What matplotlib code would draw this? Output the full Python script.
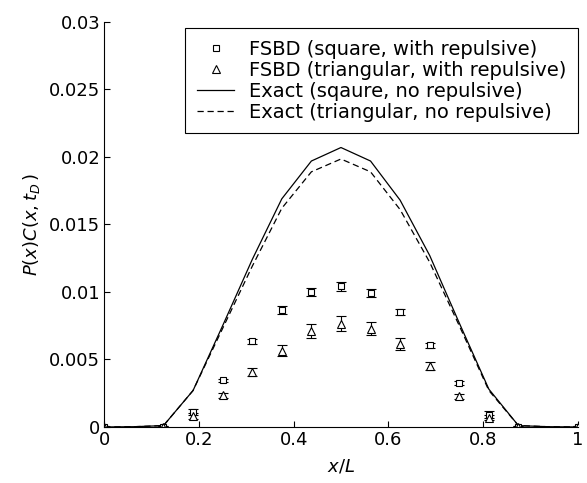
import numpy as np
import matplotlib
matplotlib.use("Agg")
import matplotlib.pyplot as plt

plt.rcParams['font.family'] = ['DejaVu Sans']
plt.rcParams['mathtext.fontset'] = 'custom'
plt.rcParams['mathtext.it'] = 'DejaVu Sans:italic'
plt.rcParams['mathtext.rm'] = 'DejaVu Sans'

# exact curves on a 1/16 grid
x_exact = np.arange(17) / 16
exact_square = [0, 0.00002, 0.0001, 0.0027, 0.0075, 0.0124, 0.0169, 0.0197, 0.0207,
                0.0197, 0.0168, 0.0127, 0.0077, 0.0028, 0.0001, 0.00002, 0]
exact_tri = [0, 0.00002, 0.0001, 0.0027, 0.0073, 0.0119, 0.0162, 0.0189, 0.01985,
             0.0189, 0.0161, 0.0122, 0.0075, 0.0027, 0.0001, 0.00002, 0]

# FSBD simulation points
x_sim = [0, 0.125, 0.1875, 0.25, 0.3125, 0.375, 0.4375, 0.5,
         0.5625, 0.625, 0.6875, 0.75, 0.8125, 0.875, 1.0]
sq_vals = [0, 0, 0.0011, 0.00346, 0.00635, 0.00867, 0.0100, 0.01042,
           0.00993, 0.00852, 0.00605, 0.00326, 0.0009, 0, 0]
sq_err = [0.00005, 0.00005, 0.00025, 0.00012, 0.0002, 0.0003, 0.0003, 0.00033,
          0.0003, 0.00025, 0.0002, 0.00015, 0.00025, 0.00005, 0.00005]
tri_vals = [0, 0, 0.0008, 0.00235, 0.0041, 0.00565, 0.0071, 0.00765,
            0.00728, 0.00615, 0.0045, 0.00227, 0.0007, 0, 0]
tri_err = [0.00005, 0.00005, 0.0002, 0.0002, 0.0003, 0.0004, 0.0005, 0.00055,
           0.0005, 0.00045, 0.0003, 0.0002, 0.0002, 0.00005, 0.00005]

fig = plt.figure(figsize=(5.87, 4.83), dpi=100)
ax = fig.add_axes([0.1777, 0.116, 0.8063, 0.8385])

ax.errorbar(x_sim, sq_vals, yerr=sq_err, fmt='s', mfc='white', mec='black',
            ms=4.2, mew=0.8, ecolor='black', elinewidth=0.8, capsize=3.6, capthick=0.8)
ax.errorbar(x_sim, tri_vals, yerr=tri_err, fmt='^', mfc='white', mec='black',
            ms=6, mew=0.8, ecolor='black', elinewidth=0.8, capsize=3.6, capthick=0.8)
l_sq, = ax.plot(x_exact, exact_square, '-', color='black', lw=0.9)
l_tri, = ax.plot(x_exact, exact_tri, '--', color='black', lw=0.9, dashes=(5, 3))

ax.set_xlim(0, 1)
ax.set_ylim(0, 0.03)
ax.set_xticks([0, 0.2, 0.4, 0.6, 0.8, 1])
ax.set_xticklabels(['0', '0.2', '0.4', '0.6', '0.8', '1'])
ax.set_yticks([0, 0.005, 0.01, 0.015, 0.02, 0.025, 0.03])
ax.set_yticklabels(['0', '0.005', '0.01', '0.015', '0.02', '0.025', '0.03'])
ax.tick_params(direction='in', labelsize=13, length=4, width=0.8, pad=3)
for side in ['top', 'right']:
    ax.spines[side].set_visible(False)
for side in ['left', 'bottom']:
    ax.spines[side].set_linewidth(0.8)

ax.set_xlabel('$x/L$', fontsize=13, labelpad=6)
ax.set_ylabel('$P(x)C(x,t_D\\,)$', fontsize=13, labelpad=5)

# legend handles (markers only, no error bars)
h_sq_m = plt.Line2D([], [], marker='s', ls='none', mfc='white', mec='black', ms=4.3, mew=0.8)
h_tri_m = plt.Line2D([], [], marker='^', ls='none', mfc='white', mec='black', ms=6, mew=0.8)
leg = ax.legend([h_sq_m, h_tri_m, l_sq, l_tri],
                ['FSBD (square, with repulsive)', 'FSBD (triangular, with repulsive)',
                 'Exact (sqaure, no repulsive)', 'Exact (triangular, no repulsive)'],
                loc='upper right', bbox_to_anchor=(1.0, 0.985), fontsize=14,
                frameon=True, fancybox=False, edgecolor='black', framealpha=1,
                handlelength=1.9, handletextpad=0.75, labelspacing=0.1,
                borderpad=0.6, borderaxespad=0)
leg.get_frame().set_linewidth(0.8)

fig.savefig('out.png', dpi=100)
